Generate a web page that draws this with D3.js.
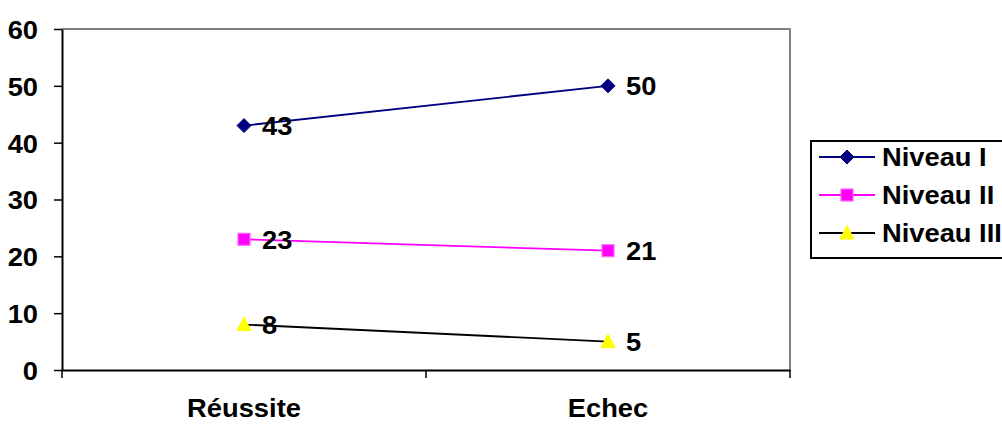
<!DOCTYPE html>
<html><head><meta charset="utf-8">
<script src="https://cdn.jsdelivr.net/npm/d3@7"></script>
<style>
html,body{margin:0;padding:0;background:#fff;}
svg{display:block;}
text{font-family:"Liberation Sans",Arial,sans-serif;font-weight:bold;fill:#000;}
</style></head>
<body>
<svg id="chart" width="1002" height="424"></svg>
<script>
const categories = ["Réussite", "Echec"];
const seriesNames = ["Niveau I", "Niveau II", "Niveau III"];
const niveauI = [43, 50];
const niveauII = [23, 21];
const niveauIII = [8, 5];
const yTicks = [0, 10, 20, 30, 40, 50, 60];

const series = [
  {name: seriesNames[0], values: niveauI, line: "#000080", fill: "#000080", stroke: "#000080", shape: "diamond"},
  {name: seriesNames[1], values: niveauII, line: "#FF00FF", fill: "#FF00FF", stroke: "#FF66FF", shape: "square"},
  {name: seriesNames[2], values: niveauIII, line: "#000000", fill: "#FFFF00", stroke: "#FFFF00", shape: "triangle"}
];

const svg = d3.select("#chart");
const L = 62, R = 790, T = 29, B = 370;
const FS = 26, STRETCH = 1.05;

function stretch(sel){
  sel.each(function(){
    const len = this.getComputedTextLength();
    d3.select(this).attr("textLength", len*STRETCH).attr("lengthAdjust","spacingAndGlyphs");
  });
}

const x = d3.scaleBand().domain(categories).range([L, R]).padding(0);
const y = d3.scaleLinear().domain([0, 60]).range([B, T]);

// plot border (top/right gray)
svg.append("path").attr("d", `M${L},${T}H${R}V${B}`).attr("fill","none").attr("stroke","#808080").attr("stroke-width",2);

// y axis
const yAxis = svg.append("g").attr("transform",`translate(${L},0)`)
  .call(d3.axisLeft(y).tickValues(yTicks).tickSize(8).tickPadding(16).tickSizeOuter(0));
yAxis.select(".domain").attr("stroke","#000").attr("stroke-width",2);
yAxis.selectAll(".tick line").attr("stroke","#000").attr("stroke-width",1.5);
yAxis.selectAll(".tick text").attr("font-size",FS).attr("font-family",null).attr("dy","0.36em").call(stretch);

// x axis
const xAxis = svg.append("g").attr("transform",`translate(0,${B})`)
  .call(d3.axisBottom(x).tickSize(0).tickSizeOuter(0).tickPadding(29));
xAxis.select(".domain").attr("stroke","#000").attr("stroke-width",2);
xAxis.selectAll(".tick text").attr("font-size",FS).attr("font-family",null).call(stretch);
// category boundary ticks
const bounds = [L, ...categories.slice(1).map(c => x(c)), R];
xAxis.selectAll(".bnd").data(bounds).enter().append("line")
  .attr("x1",d=>d).attr("x2",d=>d).attr("y1",0).attr("y2",8)
  .attr("stroke","#000").attr("stroke-width",1.5);

const cx = c => x(c) + x.bandwidth()/2;

function marker(g, shape, fill, stroke){
  if (shape === "diamond") {
    g.append("path").attr("d","M0,-7L7,0L0,7L-7,0Z").attr("fill",fill).attr("stroke",stroke).attr("stroke-width",1);
  } else if (shape === "square") {
    g.append("rect").attr("x",-6).attr("y",-6).attr("width",12).attr("height",12).attr("fill",fill).attr("stroke",stroke).attr("stroke-width",1.2);
  } else {
    g.append("path").attr("d","M0,-7.5L7,6L-7,6Z").attr("fill",fill).attr("stroke",stroke).attr("stroke-width",1);
  }
}

const line = d3.line().x((d,i)=>cx(categories[i])).y(d=>y(d));

series.forEach(s => {
  svg.append("path").datum(s.values).attr("d", line).attr("fill","none").attr("stroke", s.line).attr("stroke-width",1.8);
});
series.forEach(s => {
  s.values.forEach((v,i) => {
    const g = svg.append("g").attr("transform",`translate(${cx(categories[i])},${y(v)})`);
    marker(g, s.shape, s.fill, s.stroke);
  });
});
series.forEach(s => {
  s.values.forEach((v,i) => {
    svg.append("text").attr("x", cx(categories[i]) + 18).attr("y", y(v)).attr("dy","0.36em")
      .attr("font-size",FS).text(v).call(stretch);
  });
});

// legend
const lg = svg.append("g");
lg.append("rect").attr("x",811).attr("y",141).attr("width",200).attr("height",117)
  .attr("fill","#fff").attr("stroke","#000").attr("stroke-width",2);
series.forEach((s,i) => {
  const yy = 157 + i*38;
  lg.append("line").attr("x1",819).attr("x2",875).attr("y1",yy).attr("y2",yy).attr("stroke",s.line).attr("stroke-width",1.8);
  const g = lg.append("g").attr("transform",`translate(847,${yy})`);
  marker(g, s.shape, s.fill, s.stroke);
  lg.append("text").attr("x",882).attr("y",yy).attr("dy","0.36em").attr("font-size",FS).text(s.name).call(stretch);
});
</script>
</body></html>
